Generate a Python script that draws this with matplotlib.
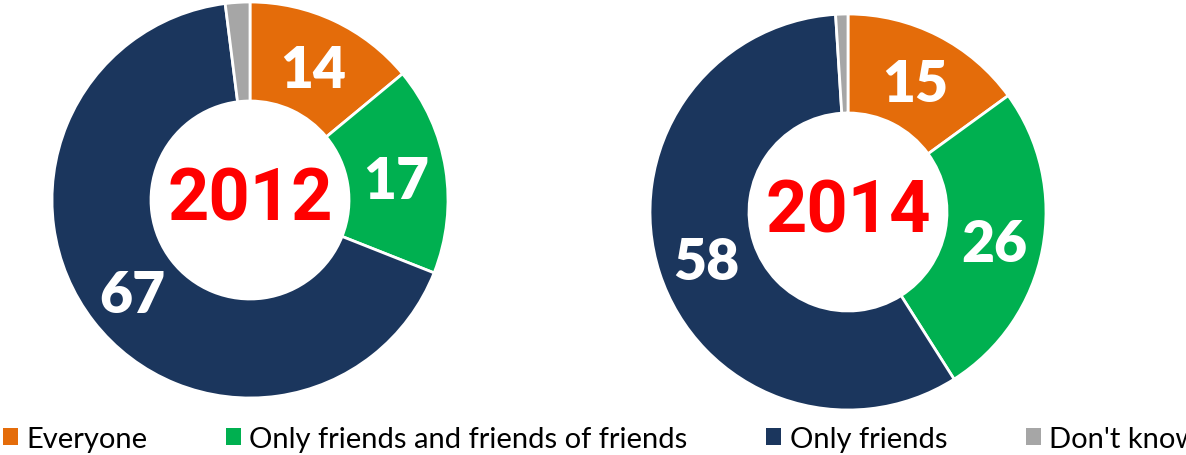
import numpy as np
import matplotlib.pyplot as plt
from matplotlib.patches import Patch

# who can see your profile, share of answers (%)
categories = ["Everyone", "Only friends and friends of friends", "Only friends", "Don't know"]
vals_2012 = [14, 17, 67, 2]
vals_2014 = [15, 26, 58, 1]
years = ["2012", "2014"]
colors = ["#E46C0A", "#00B050", "#1B365D", "#A6A6A6"]

fig = plt.figure(figsize=(11.86, 4.56), dpi=100)

W, H = 1186, 456
r_px = 198


def donut(cx, cy, vals, year):
    ax = fig.add_axes([(cx - r_px) / W, 1 - (cy + r_px) / H, 2 * r_px / W, 2 * r_px / H])
    wedges, _ = ax.pie(vals, colors=colors, startangle=90, counterclock=False,
                       radius=1.0, wedgeprops=dict(width=0.5, edgecolor="white", linewidth=2))
    ax.set_xlim(-1, 1)
    ax.set_ylim(-1, 1)
    ax.set_aspect("equal")
    ax.axis("off")
    # value labels inside the ring (skip the tiny "don't know" slice)
    total = sum(vals)
    start = 90
    for v in vals:
        mid = start - v / total * 360 / 2
        start -= v / total * 360
        if v < 5:
            continue
        x = 0.75 * np.cos(np.radians(mid))
        y = 0.75 * np.sin(np.radians(mid))
        ax.text(x, y - 0.02, str(v), ha="center", va="center", color="white",
                fontsize=41, fontweight="heavy", family="Lato")
    ax.text(0, 0, year, ha="center", va="center", color="#FF0000",
            fontsize=52, fontweight="bold", family="Roboto")
    return wedges


donut(250, 201, vals_2012, years[0])
donut(848, 213, vals_2014, years[1])

handles = [Patch(facecolor=c, edgecolor="none") for c in colors]
fig.legend(handles, categories, loc="lower left", bbox_to_anchor=(0.0, 0.0), ncol=4,
           frameon=False, prop={"family": "Lato", "size": 21},
           handlelength=0.5, handleheight=0.5, handletextpad=0.3,
           columnspacing=2.7, borderaxespad=0.05, borderpad=0.05)

fig.savefig("out.png", dpi=100)
